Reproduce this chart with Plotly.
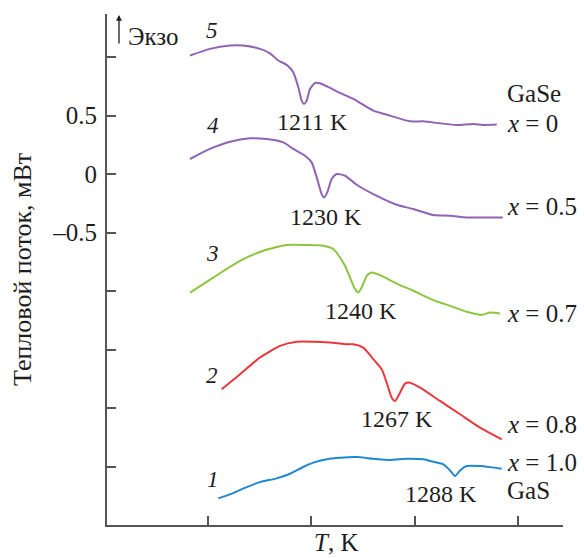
import plotly.graph_objects as go

# ---- data (T in K on a notional scale, heat flow in mW) ----
T5 = [1082.6, 1101.9, 1121.3, 1134.2, 1150.3, 1160.0, 1168.0, 1176.2, 1182.5, 1187.4, 1190.7, 1192.9, 1195.5,
      1198.7, 1203.6, 1208.4, 1218.1, 1227.7, 1240.6, 1260.0, 1276.1, 1295.5, 1308.3, 1324.4, 1340.7, 1356.7,
      1366.4, 1379.4]
Q5 = [1.015, 1.072, 1.100, 1.100, 1.072, 1.034, 0.972, 0.935, 0.872, 0.743, 0.629, 0.601, 0.629,
      0.729, 0.781, 0.777, 0.738, 0.695, 0.644, 0.544, 0.501, 0.452, 0.452, 0.435, 0.421, 0.430,
      0.421, 0.424]

T4 = [1082.6, 1101.9, 1121.3, 1140.6, 1156.8, 1172.9, 1182.5, 1193.9, 1200.3, 1205.2, 1210.0, 1212.5, 1215.4,
      1219.7, 1224.5, 1232.6, 1243.9, 1260.0, 1282.6, 1298.7, 1318.0, 1334.2, 1350.3, 1366.4, 1385.2]
Q4 = [0.130, 0.216, 0.278, 0.307, 0.301, 0.272, 0.216, 0.158, 0.101, -0.027, -0.170, -0.199, -0.156,
      -0.041, 0.002, -0.013, -0.090, -0.170, -0.261, -0.298, -0.349, -0.355, -0.370, -0.370, -0.370]

T3 = [1082.6, 1105.1, 1131.0, 1153.5, 1176.2, 1195.5, 1211.6, 1221.3, 1227.7, 1232.6, 1237.4, 1242.3, 1245.4,
      1248.7, 1253.6, 1258.4, 1266.4, 1282.6, 1298.7, 1318.0, 1334.2, 1350.3, 1364.9, 1372.9, 1382.6]
Q3 = [-1.012, -0.884, -0.741, -0.655, -0.606, -0.606, -0.612, -0.640, -0.712, -0.783, -0.884, -0.983, -1.012,
      -0.969, -0.869, -0.841, -0.863, -0.935, -0.997, -1.077, -1.126, -1.177, -1.203, -1.183, -1.192]

T2 = [1113.3, 1131.0, 1150.3, 1169.7, 1185.8, 1201.9, 1218.1, 1232.6, 1240.6, 1250.3, 1260.0, 1268.1, 1272.9,
      1277.8, 1281.0, 1285.8, 1290.6, 1295.5, 1305.2, 1324.5, 1343.9, 1363.3, 1384.2]
Q2 = [-1.839, -1.711, -1.568, -1.468, -1.432, -1.432, -1.440, -1.454, -1.454, -1.483, -1.582, -1.668, -1.783,
      -1.911, -1.939, -1.868, -1.791, -1.783, -1.825, -1.939, -2.053, -2.168, -2.267]

T1 = [1110.0, 1121.3, 1137.4, 1150.3, 1166.5, 1179.4, 1192.2, 1201.9, 1214.9, 1227.7, 1243.9, 1260.0, 1276.1,
      1292.3, 1308.3, 1318.0, 1327.7, 1334.2, 1339.0, 1343.9, 1350.3, 1363.2, 1372.9, 1384.2]
Q1 = [-2.772, -2.738, -2.676, -2.633, -2.601, -2.562, -2.504, -2.467, -2.438, -2.425, -2.419, -2.433, -2.444,
      -2.433, -2.438, -2.459, -2.481, -2.533, -2.582, -2.533, -2.496, -2.496, -2.505, -2.519]

x_ticks = [1100, 1200, 1300, 1400]
y_ticks = [1.0, 0.5, 0.0, -0.5, -1.0, -1.5, -2.0, -2.5]
y_tick_text = ["", "0.5", "0", "\u20130.5", "", "", "", ""]

curve_numbers = ["5", "4", "3", "2", "1"]
peak_labels = ["1211 K", "1230 K", "1240 K", "1267 K", "1288 K"]
right_labels = ["GaSe", "<i>x</i> = 0", "<i>x</i> = 0.5", "<i>x</i> = 0.7", "<i>x</i> = 0.8", "<i>x</i> = 1.0", "GaS"]

PURPLE = "#9163b4"
GREEN = "#8cc63e"
RED = "#e8383d"
BLUE = "#1f88cf"
SERIF = "Liberation Serif, Times New Roman, serif"
INK = "#1e1e1e"

W, H = 584, 558
L, R, T, B = 107, 21, 14, 33
PW, PH = W - L - R, H - T - B


def px(x):
    return (x - L) / PW


def py(y):
    return (H - B - y) / PH


def label(text, x, y, size, xanchor="center", **kw):
    return dict(text=text, x=px(x), y=py(y), xref="paper", yref="paper",
                xanchor=xanchor, yanchor="middle", showarrow=False,
                font=dict(family=SERIF, size=size, color=INK), **kw)


fig = go.Figure()
for tx, qy, col in [(T5, Q5, PURPLE), (T4, Q4, PURPLE), (T3, Q3, GREEN), (T2, Q2, RED), (T1, Q1, BLUE)]:
    fig.add_trace(go.Scatter(x=tx, y=qy, mode="lines",
                             line=dict(color=col, width=2, shape="spline", smoothing=0.6),
                             showlegend=False, hoverinfo="skip"))

ann = []
for txt, (x, y) in zip(curve_numbers, [(212, 30), (213, 125), (212, 253), (212, 375), (213, 479)]):
    ann.append(label("<i>" + txt + "</i>", x, y, 23))
for txt, (x, y) in zip(peak_labels, [(312, 122), (326, 217), (361, 311), (397, 419), (441, 494)]):
    ann.append(label(txt, x, y, 24))
for txt, y in zip(right_labels, [93, 123, 206, 313, 424, 462, 490]):
    ann.append(label(txt, 505, y, 25, xanchor="left"))
# exo arrow + label
ann.append(dict(text="", x=px(119), y=py(15), xref="paper", yref="paper",
                ax=0, ay=30, showarrow=True, arrowhead=2, arrowsize=0.9, arrowwidth=1.3,
                arrowcolor=INK, standoff=0, startstandoff=0))
ann.append(label("Экзо", 126, 36, 25, xanchor="left"))
# axis titles
ann.append(label("Тепловой поток, мВт", 22, 270, 26, textangle=-90))
ann.append(label("<i>T</i>, K", 336, 543, 25))

fig.update_layout(
    width=W, height=H,
    margin=dict(l=L, r=R, t=T, b=B),
    paper_bgcolor="white", plot_bgcolor="white",
    annotations=ann,
    xaxis=dict(range=[1002.3, 1443.5], tickvals=x_ticks, ticktext=["" for _ in x_ticks],
               ticks="inside", ticklen=9, tickwidth=1.5, tickcolor="#555",
               showline=True, linecolor="#555", linewidth=2, showgrid=False, zeroline=False),
    yaxis=dict(range=[-3.0, 1.37], tickvals=y_ticks, ticktext=y_tick_text,
               ticks="inside", ticklen=9, tickwidth=1.5, tickcolor="#555",
               showline=True, linecolor="#555", linewidth=2, showgrid=False, zeroline=False,
               tickfont=dict(family=SERIF, size=25, color=INK), ticklabelstandoff=3),
)

fig.write_html("out.html")
